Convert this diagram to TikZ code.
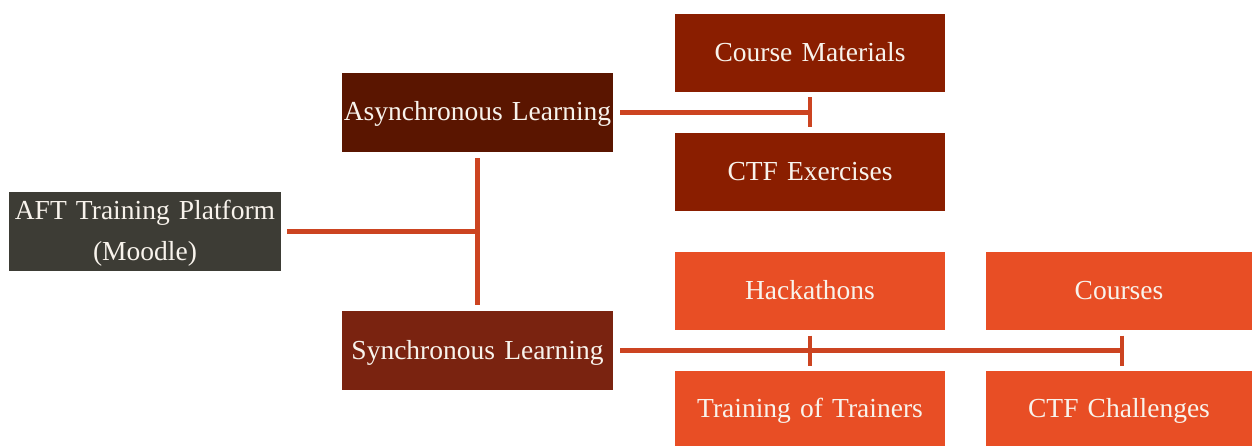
\documentclass[tikz,border=0pt]{standalone}
\usepackage{fontspec}
\setmainfont{Liberation Serif}
\definecolor{rootc}{HTML}{3D3C35}
\definecolor{asyncc}{HTML}{5A1500}
\definecolor{syncc}{HTML}{7A2310}
\definecolor{darkleaf}{HTML}{8A1E00}
\definecolor{lightleaf}{HTML}{E84E25}
\definecolor{linkc}{HTML}{CC4421}
\definecolor{textc}{HTML}{F8F3EC}
\tikzset{
  box/.style={rectangle, inner sep=0pt, text=textc, align=center,
    font=\fontsize{27.5}{41}\selectfont, text width=#1, minimum height=79pt,
    text height=19pt, text depth=2pt},
  box/.default=270pt,
  conn/.style={draw=linkc, line width=5pt},
  tick/.style={draw=linkc, line width=4pt},
}
\begin{document}
\begin{tikzpicture}[x=1pt,y=-1pt]
\useasboundingbox (0,0) rectangle (1252,446);
% root
\node[box=272pt, fill=rootc, text depth=42pt] (aft) at (145,231.5) {AFT Training Platform\\(Moodle)};
% branches
\node[box=271pt, fill=asyncc] (async) at (477.5,112.5) {Asynchronous Learning};
\node[box=271pt, fill=syncc] (sync) at (477.5,350.5) {Synchronous Learning};
% asynchronous leaves
\node[box=270pt, fill=darkleaf, minimum height=78pt] (cm) at (810,53) {Course Materials};
\node[box=270pt, fill=darkleaf, minimum height=78pt] (ctfe) at (810,172) {CTF Exercises};
% synchronous leaves
\node[box=270pt, fill=lightleaf, minimum height=78pt] (hack) at (810,291) {Hackathons};
\node[box=270pt, fill=lightleaf, minimum height=75pt] (tot) at (810,408.5) {Training of Trainers};
\node[box=266pt, fill=lightleaf, minimum height=78pt] (courses) at (1119,291) {Courses};
\node[box=266pt, fill=lightleaf, minimum height=75pt] (ctfc) at (1119,408.5) {CTF Challenges};
% junction points
\coordinate (j) at (477.5,232);
\coordinate (ta) at (810,112.5);
\coordinate (ts1) at (810,350.5);
\coordinate (ts2) at (1122,350.5);
% root to branches
\draw[conn, shorten <=6pt] (aft.east) -- (aft.east -| j);
\draw[conn, shorten <=6pt, shorten >=6pt] (async.south -| j) -- (sync.north -| j);
% asynchronous link
\draw[conn, shorten <=7pt] (async.east) -- (async.east -| ta);
\draw[tick] (ta) ++(0,-15) -- ++(0,30);
% synchronous link
\draw[conn, shorten <=7pt] (sync.east) -- (sync.east -| ts2);
\draw[tick] (ts1) ++(0,-15) -- ++(0,30);
\draw[tick] (ts2) ++(0,-15) -- ++(0,30);
\end{tikzpicture}
\end{document}
